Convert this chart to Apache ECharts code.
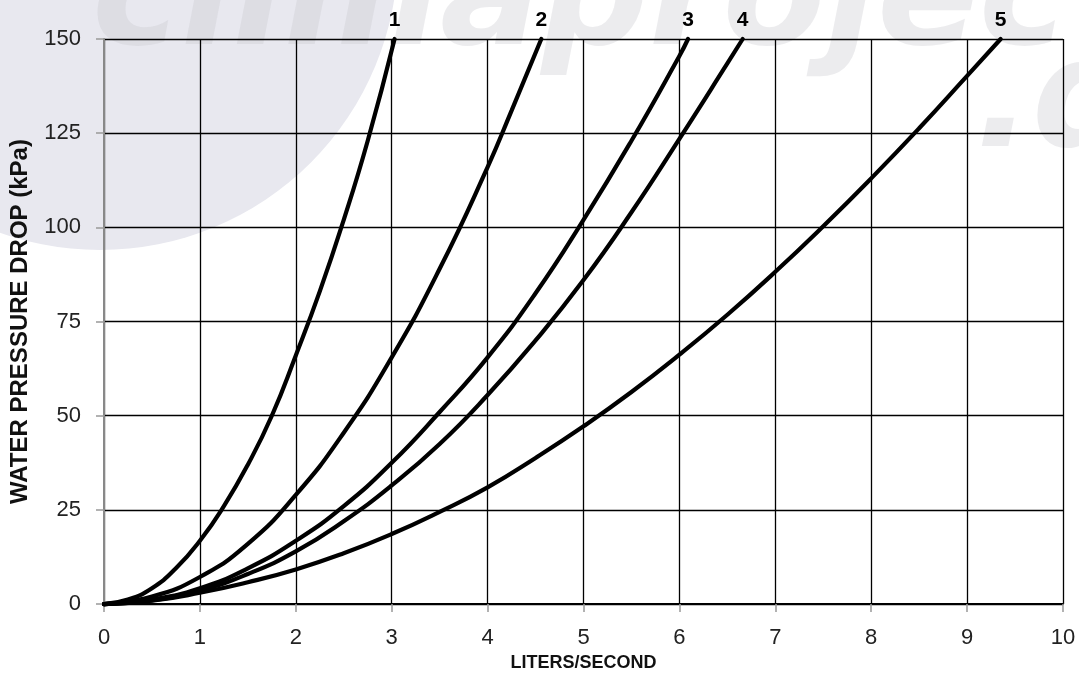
<!DOCTYPE html>
<html>
<head>
<meta charset="utf-8">
<script src="https://cdn.jsdelivr.net/npm/echarts@6/dist/echarts.min.js"></script>
<style>
html,body{margin:0;padding:0;background:#fff;}
#chart{width:1079px;height:677px;}
</style>
</head>
<body>
<div id="chart"></div>
<script>
// ---- Data ----
const seriesNames = ['1', '2', '3', '4', '5'];

const curve1X = [0, 0.25, 0.5, 0.75, 1, 1.25, 1.5, 1.75, 2, 2.25, 2.5, 2.75, 3.03];
const curve1Y = [0, 1.2, 4.2, 9.5, 16.8, 26, 37, 50, 66, 83, 102, 123, 150];

const curve2X = [0, 0.5, 1, 1.5, 2, 2.5, 3, 3.5, 4, 4.25, 4.56];
const curve2Y = [0, 2, 7.2, 16, 29, 45.5, 65.5, 89, 116, 131, 150];

const curve3X = [0, 0.5, 1, 1.5, 2, 2.5, 3, 3.5, 4, 4.5, 5, 5.5, 6, 6.09];
const curve3Y = [0, 1.2, 4.2, 9.5, 16.8, 26, 37.5, 51, 65.5, 82.5, 102, 123, 145.5, 150];

const curve4X = [0, 0.5, 1, 1.5, 2, 2.5, 3, 3.5, 4, 4.5, 5, 5.5, 6, 6.5, 6.66];
const curve4Y = [0, 1, 3.6, 8, 14, 22, 31.5, 42.5, 55.5, 70, 86, 104, 123.5, 143.5, 150];

const curve5X = [0, 0.5, 1, 1.5, 2, 2.5, 3, 3.5, 4, 4.5, 5, 5.5, 6, 6.5, 7, 7.5, 8, 8.5, 9, 9.35];
const curve5Y = [0, 0.9, 3, 5.8, 9.2, 13.5, 18.6, 24.5, 31, 38.8, 47.2, 56.3, 66.2, 76.8, 88.2, 100.3, 113, 126.3, 140.2, 150];

const xTickLabels = ['0','1','2','3','4','5','6','7','8','9','10'];
const yTickLabels = ['0','25','50','75','100','125','150'];

const xTitle = 'LITERS/SECOND';
const yTitle = 'WATER PRESSURE DROP (kPa)';

// ---- Build chart ----
const curvesX = [curve1X, curve2X, curve3X, curve4X, curve5X];
const curvesY = [curve1Y, curve2Y, curve3Y, curve4Y, curve5Y];
const FONT = '"Liberation Sans", Arial, Helvetica, sans-serif';

const series = seriesNames.map(function (name, i) {
  const xs = curvesX[i], ys = curvesY[i];
  return {
    name: name,
    type: 'line',
    data: xs.map(function (x, j) { return [x, ys[j]]; }),
    showSymbol: false,
    symbol: 'none',
    smooth: true,
    clip: false,
    lineStyle: { color: '#000', width: 4.2, cap: 'round', join: 'round' },
    z: 5
  };
});

// end-of-curve number labels (taken from the last point of each curve)
series.push({
  name: 'labels',
  type: 'scatter',
  symbol: 'circle',
  symbolSize: 1,
  itemStyle: { color: 'rgba(0,0,0,0)' },
  data: seriesNames.map(function (name, i) {
    const xs = curvesX[i], ys = curvesY[i];
    return { name: name, value: [xs[xs.length - 1], ys[ys.length - 1]] };
  }),
  label: {
    show: true,
    position: 'top',
    distance: 8,
    formatter: function (p) { return p.name; },
    fontFamily: FONT,
    fontWeight: 'bold',
    fontSize: 21,
    color: '#000',
    opacity: 1
  },
  clip: false,
  silent: true,
  z: 6
});

const chart = echarts.init(document.getElementById('chart'), null, { renderer: 'canvas' });
chart.setOption({
  backgroundColor: '#ffffff',
  animation: false,
  graphic: [
    { type: 'circle', silent: true, z: -20, shape: { cx: 100, cy: -48, r: 298 }, style: { fill: '#e8e8ef' } },
    { type: 'text', silent: true, z: -19, x: 92, y: 80,
      style: { text: 'climaproject', font: 'italic 900 150px "DejaVu Sans"', fill: 'rgba(200,200,205,0.35)', verticalAlign: 'bottom' } },
    { type: 'text', silent: true, z: -19, x: 975, y: 182,
      style: { text: '.de', font: 'italic 900 150px "DejaVu Sans"', fill: 'rgba(200,200,205,0.35)', verticalAlign: 'bottom' } }
  ],
  grid: { left: 103, right: 16, top: 39, bottom: 70, containLabel: false },
  xAxis: [{
    type: 'value',
    min: 0, max: 10, interval: 1,
    name: xTitle,
    nameLocation: 'middle',
    nameGap: 48,
    nameTextStyle: { fontFamily: FONT, fontWeight: 'bold', fontSize: 18, color: '#111' },
    axisLine: { show: true, onZero: false, lineStyle: { color: '#888', width: 2 } },
    axisTick: { show: true, length: 8, lineStyle: { color: '#999', width: 1.5 } },
    axisLabel: {
      margin: 23, fontFamily: FONT, fontSize: 22, color: '#222',
      formatter: function (v) { return xTickLabels[Math.round(v)]; }
    },
    splitLine: { show: true, lineStyle: { color: '#000', width: 1.3 } }
  }, {
    type: 'value', position: 'top', min: 0, max: 10, interval: 1,
    axisLine: { show: true, lineStyle: { color: '#000', width: 2 } },
    axisTick: { show: false }, axisLabel: { show: false }, splitLine: { show: false }
  }],
  yAxis: {
    type: 'value',
    min: 0, max: 150, interval: 25,
    name: yTitle,
    nameLocation: 'middle',
    nameGap: 72,
    nameRotate: 90,
    nameTextStyle: { fontFamily: FONT, fontWeight: 'bold', fontSize: 24, color: '#111' },
    axisLine: { show: true, onZero: false, lineStyle: { color: '#888', width: 2 } },
    axisTick: { show: true, length: 8, lineStyle: { color: '#999', width: 1.5 } },
    axisLabel: {
      margin: 23, fontFamily: FONT, fontSize: 22, color: '#222',
      formatter: function (v) { return yTickLabels[Math.round(v / 25)]; }
    },
    splitLine: { show: true, lineStyle: { color: '#000', width: 1.3 } }
  },
  series: series
});
</script>
</body>
</html>
